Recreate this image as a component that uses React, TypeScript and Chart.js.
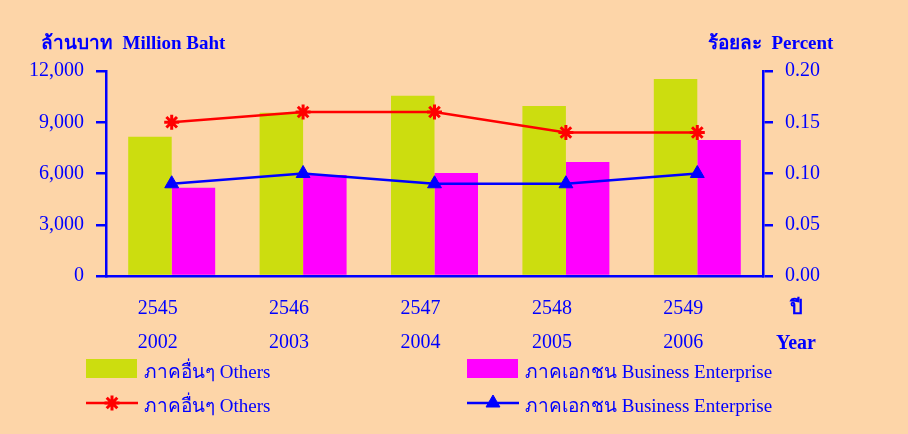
import React, { useEffect, useRef } from 'react';
import { Chart, registerables } from 'chart.js';
import { drawPoint } from 'chart.js/helpers';

Chart.register(...registerables);

const thaiYears = ['2545', '2546', '2547', '2548', '2549'];
const gregorianYears = ['2002', '2003', '2004', '2005', '2006'];
const othersAmount = [8150, 9550, 10550, 9950, 11530];
const businessAmount = [5170, 5910, 6030, 6670, 7960];
const othersPercent = [0.15, 0.16, 0.16, 0.14, 0.14];
const businessPercent = [0.09, 0.1, 0.09, 0.09, 0.1];
const leftMax = 12000;
const leftStep = 3000;
const rightMax = 0.2;
const rightStep = 0.05;
const othersLabel = 'ภาคอื่นๆ Others';
const businessLabel = 'ภาคเอกชน Business Enterprise';
const leftTitle = 'ล้านบาท  Million Baht';
const rightTitle = 'ร้อยละ  Percent';
const xTitleThai = 'ปี';
const xTitleEn = 'Year';

const BG = '#FDD5A8';
const BLUE = '#0000FF';
const RED = '#FF0000';
const GREEN = '#CCDD0F';
const MAGENTA = '#FF00FF';
const FONT = '"Liberation Serif", "Times New Roman", serif';

const overlayPlugin = {
  id: 'overlayText',
  afterDraw(chart: any) {
    const ctx = chart.ctx as CanvasRenderingContext2D;
    const area = chart.chartArea;
    ctx.save();
    ctx.fillStyle = BLUE;
    ctx.textBaseline = 'alphabetic';
    ctx.font = `bold 19px ${FONT}`;
    ctx.textAlign = 'left';
    ctx.fillText(leftTitle, 41, 49);
    ctx.fillText(rightTitle, 708, 49);
    // x axis title at the right end
    ctx.font = `bold 20px ${FONT}`;
    ctx.textAlign = 'center';
    const xr = area.right + 33;
    ctx.fillText(xTitleThai, xr, area.bottom + 38);
    ctx.fillText(xTitleEn, xr, area.bottom + 73);

    // legend: 2 columns x 2 rows
    const cols = [86, 467];
    const rowsC = [368.5, 403];
    const ds = chart.data.datasets;
    ctx.font = `19px ${FONT}`;
    ctx.textAlign = 'left';
    ds.forEach((d: any, i: number) => {
      const cx = cols[i % 2];
      const cy = rowsC[Math.floor(i / 2)];
      if (d.type === 'bar') {
        ctx.fillStyle = d.backgroundColor;
        ctx.fillRect(cx, cy - 9.5, 51, 19);
      } else {
        ctx.strokeStyle = d.borderColor;
        ctx.lineWidth = d.borderWidth;
        ctx.beginPath();
        ctx.moveTo(cx, cy);
        ctx.lineTo(cx + 52, cy);
        ctx.stroke();
        ctx.fillStyle = d.pointBackgroundColor;
        ctx.strokeStyle = d.pointBorderColor;
        ctx.lineWidth = d.pointBorderWidth;
        drawPoint(ctx, { pointStyle: d.pointStyle, radius: d.pointRadius, rotation: 0, borderWidth: d.pointBorderWidth }, cx + 26, cy);
      }
      ctx.fillStyle = BLUE;
      ctx.fillText(d.label, cx + 58, cy + 9);
    });
    ctx.restore();
  },
};

export default function App() {
  const ref = useRef<HTMLCanvasElement>(null);
  useEffect(() => {
    if (!ref.current) return;
    const labels = thaiYears.map((t, i) => [t, gregorianYears[i]]);
    const chart = new Chart(ref.current, {
      type: 'bar',
      data: {
        labels,
        datasets: [
          {
            type: 'bar',
            label: othersLabel,
            data: othersAmount,
            backgroundColor: GREEN,
            yAxisID: 'y',
            order: 2,
          },
          {
            type: 'bar',
            label: businessLabel,
            data: businessAmount,
            backgroundColor: MAGENTA,
            yAxisID: 'y',
            order: 2,
          },
          {
            type: 'line',
            label: othersLabel,
            data: othersPercent,
            borderColor: RED,
            backgroundColor: RED,
            borderWidth: 2.5,
            pointStyle: 'star',
            pointRadius: 7.5,
            pointBorderWidth: 3,
            pointBackgroundColor: RED,
            pointBorderColor: RED,
            yAxisID: 'y1',
            order: 1,
          } as any,
          {
            type: 'line',
            label: businessLabel,
            data: businessPercent,
            borderColor: BLUE,
            backgroundColor: BLUE,
            borderWidth: 2.5,
            pointStyle: 'triangle',
            pointRadius: 8,
            pointBorderWidth: 1,
            pointBackgroundColor: BLUE,
            pointBorderColor: BLUE,
            yAxisID: 'y1',
            order: 1,
          } as any,
        ],
      },
      options: {
        responsive: false,
        animation: false,
        layout: { padding: { top: 71, left: 0, right: 0, bottom: 0 } },
        datasets: {
          bar: { categoryPercentage: 0.662, barPercentage: 1 },
        },
        plugins: {
          legend: { display: false },
          tooltip: { enabled: false },
          title: { display: false },
        },
        scales: {
          x: {
            grid: { display: false },
            border: { display: true, color: BLUE, width: 2.5 },
            ticks: {
              color: BLUE,
              font: { family: FONT, size: 20, lineHeight: 1.7 },
              padding: 8,
              labelOffset: -14,
              maxRotation: 0,
              autoSkip: false,
            },
            afterFit: (s: any) => {
              s.height = 158;
            },
          },
          y: {
            position: 'left',
            min: 0,
            max: leftMax,
            grid: { drawOnChartArea: false, color: BLUE, lineWidth: 2.5, tickLength: 10 },
            border: { display: true, color: BLUE, width: 2.5 },
            ticks: {
              stepSize: leftStep,
              color: BLUE,
              padding: 12,
              font: { family: FONT, size: 20 },
              callback: (v: any) => Number(v).toLocaleString('en-US'),
            },
            afterFit: (s: any) => {
              s.width = 106;
            },
          },
          y1: {
            position: 'right',
            min: 0,
            max: rightMax,
            grid: { drawOnChartArea: false, color: BLUE, lineWidth: 2.5, tickLength: 10 },
            border: { display: true, color: BLUE, width: 2.5 },
            ticks: {
              stepSize: rightStep,
              color: BLUE,
              padding: 12,
              font: { family: FONT, size: 20 },
              callback: (v: any) => Number(v).toFixed(2),
            },
            afterFit: (s: any) => {
              s.width = 145;
            },
          },
        },
      },
      plugins: [overlayPlugin],
    } as any);
    return () => chart.destroy();
  }, []);
  return (
    <div style={{ position: 'absolute', left: 0, top: 0, width: 908, height: 434, background: BG }}>
      <canvas ref={ref} width={908} height={434} style={{ display: 'block' }} />
    </div>
  );
}
